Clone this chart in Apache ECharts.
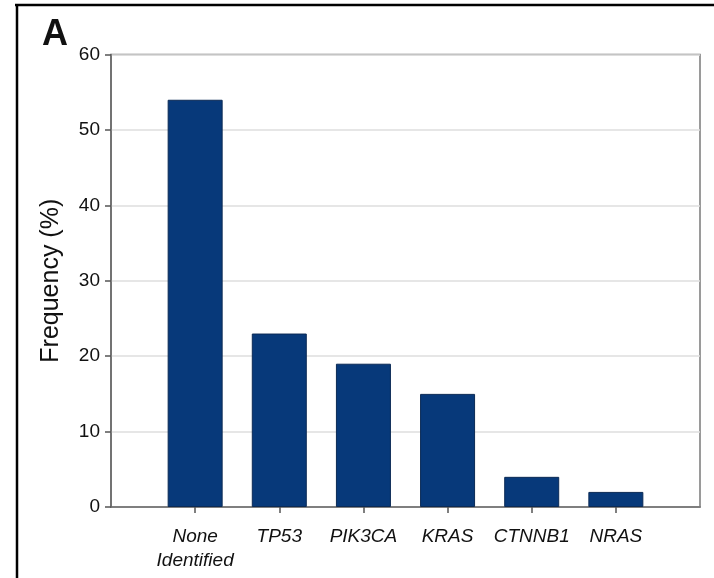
<!DOCTYPE html>
<html>
<head>
<meta charset="utf-8">
<script src="https://cdn.jsdelivr.net/npm/echarts@6/dist/echarts.min.js"></script>
<style>
  html, body { margin: 0; padding: 0; background: #fff; }
  #chart { width: 714px; height: 578px; }
</style>
</head>
<body>
<div id="chart"></div>
<script>
const categories = ['None\nIdentified', 'TP53', 'PIK3CA', 'KRAS', 'CTNNB1', 'NRAS'];
const frequency = [54, 23, 19, 15, 4, 2];
const yTicks = [0, 10, 20, 30, 40, 50, 60];

// pad with empty slots so that bars sit at positions 1..6 on a 0..7 axis
const axisCats = [''].concat(categories, ['']);
const barData = [null].concat(frequency, [null]);

const FONT = "'Liberation Sans', Arial, Helvetica, sans-serif";
const chart = echarts.init(document.getElementById('chart'), null, { renderer: 'canvas' });

chart.setOption({
  animation: false,
  backgroundColor: '#ffffff',
  title: {
    text: 'A',
    left: 37,
    top: 12,
    textStyle: { fontFamily: FONT, fontSize: 36, fontWeight: 'bold', color: '#111' }
  },
  graphic: [
    { type: 'line', shape: { x1: 15, y1: 5, x2: 714, y2: 5 }, style: { stroke: '#000', lineWidth: 2.5 } },
    { type: 'line', shape: { x1: 17, y1: 4, x2: 17, y2: 578 }, style: { stroke: '#000', lineWidth: 2.5 } }
  ],
  grid: {
    left: 111, right: 14, top: 54.5, bottom: 71,
    show: true, borderColor: '#7a7a7a', borderWidth: 1.5, backgroundColor: 'transparent'
  },
  xAxis: {
    type: 'category',
    data: axisCats,
    boundaryGap: false,
    axisLine: { show: true, lineStyle: { color: '#666', width: 1.5 } },
    axisTick: {
      show: true, length: 6, inside: false,
      interval: function (i) { return i > 0 && i < axisCats.length - 1; },
      lineStyle: { color: '#555', width: 1.5 }
    },
    axisLabel: {
      interval: 0,
      margin: 18,
      fontFamily: FONT, fontSize: 19, fontStyle: 'italic', color: '#111',
      lineHeight: 24
    },
    splitLine: { show: false }
  },
  yAxis: {
    type: 'value',
    min: 0, max: 60, interval: 10,
    name: 'Frequency (%)',
    nameLocation: 'middle',
    nameGap: 47,
    nameTextStyle: { fontFamily: FONT, fontSize: 25, color: '#111' },
    axisLine: { show: true, lineStyle: { color: '#666', width: 1.5 } },
    axisTick: { show: true, length: 6, inside: false, lineStyle: { color: '#555', width: 1.5 } },
    axisLabel: {
      margin: 11,
      fontFamily: FONT, fontSize: 19, color: '#111',
      formatter: function (v) { return yTicks.indexOf(v) >= 0 ? String(v) : ''; }
    },
    splitLine: { show: true, lineStyle: { color: '#dedede', width: 1.5 } }
  },
  series: [{
    type: 'bar',
    data: barData,
    barWidth: 55,
    itemStyle: { color: '#07397a', borderColor: '#0b2a55', borderWidth: 1 },
    emphasis: { disabled: true }
  }]
});
</script>
</body>
</html>
